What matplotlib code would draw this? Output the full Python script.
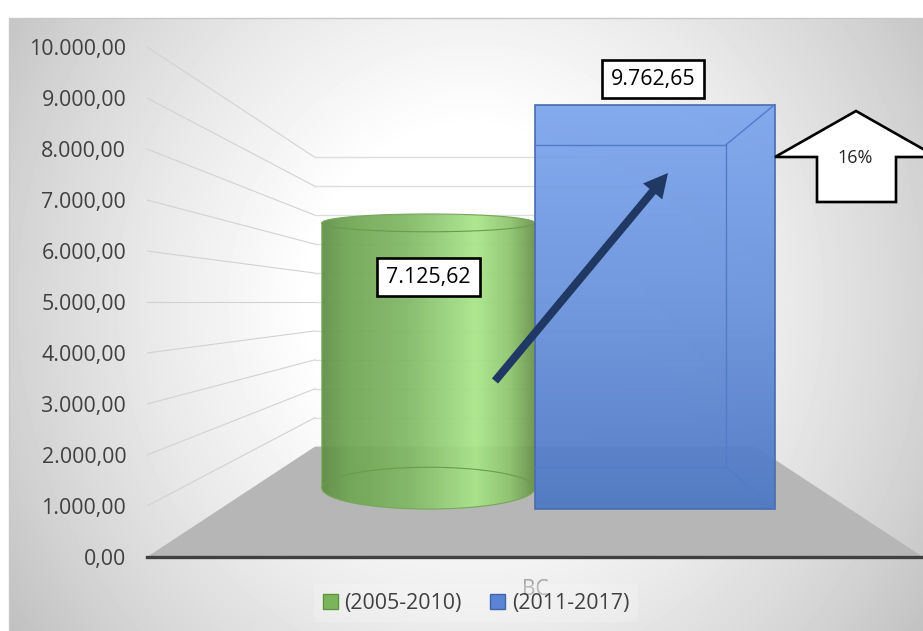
import numpy as np
import matplotlib
matplotlib.use("Agg")
import matplotlib.pyplot as plt
from matplotlib.colors import LinearSegmentedColormap
from matplotlib.patches import Polygon, Rectangle, FancyArrow, Patch

plt.rcParams['font.family'] = ['Open Sans', 'DejaVu Sans']

categories = ["BC"]
series_names = ["(2005-2010)", "(2011-2017)"]
series_values = [7125.62, 9762.65]
tick_values = [0, 1000, 2000, 3000, 4000, 5000, 6000, 7000, 8000, 9000, 10000]
change_label = "16%"

W, H = 923, 631
BACK = 0.567    # perspective scale of the back wall
HORIZON = 5000  # axis value that stays level in the perspective
HALF = 388      # half width of the floor at the front


def fmt(v):
    return f"{v:,.2f}".replace(",", "_").replace(".", ",").replace("_", ".")


def proj(x, v, k):
    # x, value, depth scale -> position on the flat chart axes
    return x * k, HORIZON + (v - HORIZON) * k


def fig_rect(x0, y0, x1, y1):
    return [x0 / W, 1 - y1 / H, (x1 - x0) / W, (y1 - y0) / H]


fig = plt.figure(figsize=(W / 100, H / 100), dpi=100)

# background
bg = fig.add_axes([0, 0, 1, 1], zorder=0)
bg.axis('off')
xx, yy = np.meshgrid(np.arange(9, W), np.arange(18, H))
rr = np.sqrt(((xx - 470) / 460) ** 2 + 0.4 * ((yy - 300) / 310) ** 2)
grey = 255 - np.interp(rr, [0.35, 0.7, 1.0, 1.2], [0, 22, 44, 62])
bg.imshow(grey, cmap='gray', vmin=0, vmax=255, extent=(9, W, H, 18), aspect='auto')
bg.plot([9, 9, W], [H, 18, 18], color='#c9c9c9', lw=1)
bg.set_xlim(0, W)
bg.set_ylim(H, 0)

# chart
ax = fig.add_axes(fig_rect(147, 47, 923, 557), zorder=1)
ax.patch.set_alpha(0)
for s in ['top', 'left', 'right']:
    ax.spines[s].set_visible(False)
ax.spines['bottom'].set_color('#404040')
ax.spines['bottom'].set_linewidth(2.4)

# floor
floor = [proj(-HALF, 0, 1), proj(HALF, 0, 1), proj(HALF, 0, BACK), proj(-HALF, 0, BACK)]
ax.add_patch(Polygon(floor, closed=True, fc='#b6b6b6', ec='none', zorder=1))

# gridlines on the left and back walls
for v in tick_values[1:]:
    p0 = proj(-HALF, v, 1)
    p1 = proj(-HALF, v, BACK)
    p2 = proj(HALF, v, BACK)
    ax.plot([p0[0], p1[0]], [p0[1], p1[1]], color='#d2d2d2', lw=0.8, zorder=2)
    ax.plot([p1[0], p2[0]], [p1[1], p2[1]], color='#dedede', lw=1, zorder=2)

# cylinder
cyl_r = 146
cyl_k = 0.73
cyl_dk = 0.082
th = np.linspace(0, 2 * np.pi, 181)
cx = (-cyl_r + cyl_r * np.cos(th)) * cyl_k
ck = cyl_k + cyl_dk * np.sin(th)
front = th <= np.pi
ty = proj(0, series_values[0], ck)[1]
by = proj(0, 0, ck)[1]
outline = np.r_[np.c_[cx[front][::-1], ty[front][::-1]], np.c_[cx[front], by[front]]]
body = Polygon(outline, closed=True, fc='none', ec='#76a858', lw=0.8, zorder=4)
ax.add_patch(body)
green = LinearSegmentedColormap.from_list(
    'g', [(0, '#5f8f45'), (0.12, '#6ea552'), (0.4, '#80b865'),
          (0.72, '#a9e689'), (0.88, '#8cc46c'), (1, '#668f48')])
shade = np.linspace(0, 1, 256)[None, :]
im = ax.imshow(shade, cmap=green, extent=(outline[:, 0].min(), outline[:, 0].max(), by.min(), ty.max()),
               aspect='auto', alpha=0.93, zorder=3)
im.set_clip_path(body)
back = ~front
ax.plot(cx[back], ty[back], color='#6b9c4c', lw=0.8, zorder=5)
ax.plot(cx[back], by[back], color='#6b9c4c', lw=0.8, zorder=5)

# box
box_w = 295
k_f, k_b = 0.8125, 0.648
v_box = series_values[1]
fl = proj(0, 0, k_f)
fr = proj(box_w, 0, k_f)
tl = proj(0, v_box, k_f)
tr = proj(box_w, v_box, k_f)
bbl = proj(0, 0, k_b)
bbr = proj(box_w, 0, k_b)
btl = proj(0, v_box, k_b)
btr = proj(box_w, v_box, k_b)
face = Polygon([fl, fr, tr, tl], closed=True, fc='none', ec='#4a6cae', lw=1.2, zorder=7)
ax.add_patch(face)
blue = LinearSegmentedColormap.from_list('b', ['#4f79c4', '#6a93dc', '#7ea7ee'])
im2 = ax.imshow(np.linspace(0, 1, 256)[:, None], cmap=blue, origin='lower',
                extent=(fl[0], fr[0], fl[1], tl[1]), aspect='auto', alpha=0.95, zorder=6)
im2.set_clip_path(face)
for a, b in [(bbl, bbr), (bbr, btr), (btr, btl), (btr, tr), (bbr, fr)]:
    ax.plot([a[0], b[0]], [a[1], b[1]], color='#527bc9', lw=1, zorder=7)

ax.set_xlim(-HALF, HALF)
ax.set_ylim(0, 10000)
ax.set_yticks(tick_values)
ax.set_yticklabels([fmt(v) for v in tick_values], fontsize=15.4, color='#404040')
ax.tick_params(axis='y', length=0, pad=15)
ax.set_xticks([0])
ax.set_xticklabels(categories, fontsize=15, color='#a6a6a6')
ax.tick_params(axis='x', length=0, pad=15.6)

handles = [Patch(fc='#7ab55c', ec='#5f9440', label=series_names[0]),
           Patch(fc='#5b84d6', ec='#3f64a8', label=series_names[1])]
leg = ax.legend(handles=handles, loc='center', bbox_to_anchor=(476 / W, 1 - 603 / H),
                bbox_transform=fig.transFigure, ncol=2, fontsize=15.4, frameon=True,
                facecolor='white', edgecolor='none', framealpha=0.2, fancybox=False,
                handlelength=0.7, handleheight=0.7, handletextpad=0.3, columnspacing=1.35,
                labelcolor='#404040')

# callouts, in pixel positions
top = fig.add_axes([0, 0, 1, 1], zorder=2)
top.set_xlim(0, W)
top.set_ylim(H, 0)
top.axis('off')
top.add_patch(FancyArrow(495, 381, 173, -208, width=8, head_width=25, head_length=24,
                         length_includes_head=True, fc='#1f3864', ec='none', zorder=3))
for val, (x0, y0, x1, y1) in zip(series_values, [(377, 258, 480, 296), (602, 60, 704, 98)]):
    top.add_patch(Rectangle((x0, y0), x1 - x0, y1 - y0, fc='white', ec='black', lw=1.9, zorder=4))
    top.text((x0 + x1) / 2, (y0 + y1) / 2, fmt(val), ha='center', va='center',
             fontsize=15.4, color='black', zorder=5)
top.add_patch(Polygon([(856, 111), (775, 157), (817, 157), (817, 202), (896, 202), (896, 157), (937, 157)],
                      closed=True, fc='white', ec='black', lw=1.9, zorder=4))
top.text(855, 158, change_label, ha='center', va='center', fontsize=13, color='#262626', zorder=5)

fig.savefig("out.png", dpi=100)
